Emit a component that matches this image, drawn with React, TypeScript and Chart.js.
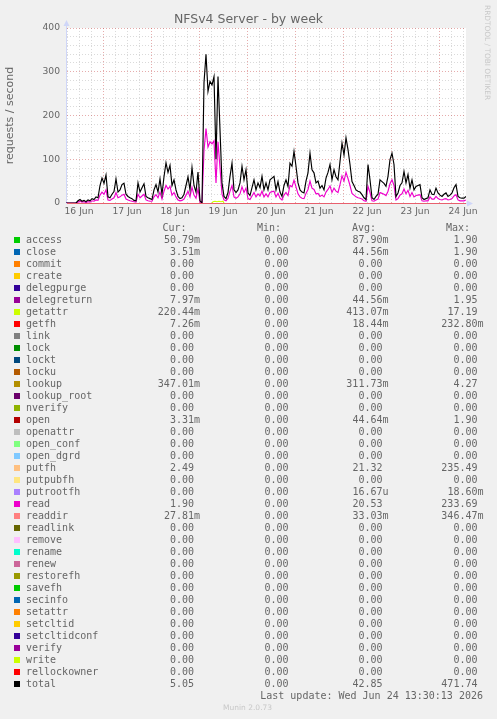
import { useEffect, useRef } from "react";
import { Chart, registerables } from "chart.js";

Chart.register(...registerables);

// ---- time axis (hours since 16 Jun 00:00), one sample per hour ----
const START_HOUR = 5.5; // 16 Jun 05:30
const END_HOUR = 205.5; // 24 Jun 13:30

const dayLabels = ["16 Jun", "17 Jun", "18 Jun", "19 Jun", "20 Jun", "21 Jun", "22 Jun", "23 Jun", "24 Jun"];

// ---- series values (requests / second) ----
const totalValues = [
  0, 0, 0, 0, 0, 0, 5, 8, 4, 6,
  3, 7, 5, 10, 8, 14, 12, 40, 57, 45,
  64, 14, 12, 20, 26, 55, 25, 30, 42, 45,
  20, 15, 12, 10, 6, 5, 46, 25, 35, 44,
  15, 12, 10, 8, 30, 42, 25, 55, 20, 60,
  92, 70, 86, 40, 53, 30, 15, 10, 12, 20,
  40, 60, 30, 81, 40, 25, 71, 5, 0, 275,
  340, 255, 278, 270, 289, 100, 289, 167, 46, 15,
  10, 24, 61, 91, 30, 24, 30, 46, 84, 53,
  76, 23, 17, 35, 53, 30, 46, 35, 61, 30,
  46, 30, 53, 57, 61, 30, 49, 25, 15, 40,
  53, 38, 91, 84, 118, 84, 46, 30, 25, 23,
  50, 69, 114, 76, 69, 46, 50, 34, 40, 30,
  57, 70, 88, 53, 76, 60, 53, 95, 137, 110,
  149, 122, 88, 49, 40, 30, 27, 25, 19, 12,
  8, 88, 53, 12, 8, 15, 20, 53, 49, 45,
  38, 61, 99, 114, 88, 15, 23, 40, 46, 72,
  46, 65, 34, 53, 30, 38, 40, 42, 12, 8,
  10, 12, 30, 20, 19, 34, 23, 18, 15, 20,
  23, 15, 18, 23, 35, 42, 15, 12, 11, 11,
  15,
];

const readValues = [
  0, 0, 0, 0, 0, 0, 2, 4, 2, 3,
  1, 3, 2, 5, 4, 7, 6, 18, 25, 20,
  30, 7, 6, 9, 12, 24, 12, 14, 18, 20,
  9, 7, 5, 4, 3, 2, 20, 12, 16, 20,
  7, 5, 4, 4, 14, 19, 12, 25, 9, 27,
  40, 32, 38, 18, 24, 14, 7, 5, 6, 9,
  18, 27, 14, 36, 18, 11, 32, 2, 0, 120,
  170, 128, 140, 135, 142, 46, 140, 80, 20, 7,
  5, 11, 27, 40, 14, 11, 14, 21, 37, 24,
  34, 10, 8, 16, 24, 14, 21, 16, 27, 14,
  21, 14, 24, 26, 27, 14, 22, 11, 7, 18,
  24, 17, 40, 37, 52, 37, 21, 14, 11, 10,
  22, 31, 50, 34, 31, 21, 22, 15, 18, 14,
  25, 31, 39, 24, 34, 27, 24, 42, 62, 50,
  70, 56, 40, 22, 18, 14, 12, 11, 9, 5,
  4, 38, 24, 5, 4, 7, 9, 24, 22, 20,
  17, 27, 44, 53, 40, 7, 10, 18, 21, 32,
  21, 29, 15, 24, 14, 17, 18, 19, 5, 4,
  5, 5, 14, 9, 9, 15, 10, 8, 7, 9,
  10, 7, 8, 10, 16, 19, 7, 5, 5, 5,
  7,
];

const getattrHours = [78.5, 79, 80, 81, 82, 83, 84, 84.5];
const getattrValues = [0, 3, 4, 3, 4, 3, 4, 0];

const hours = totalValues.map((_, i) => START_HOUR + i);

// ---- legend table ----
const seriesNames = [
  "access", "close", "commit", "create", "delegpurge", "delegreturn", "getattr", "getfh",
  "link", "lock", "lockt", "locku", "lookup", "lookup_root", "nverify", "open", "openattr",
  "open_conf", "open_dgrd", "putfh", "putpubfh", "putrootfh", "read", "readdir", "readlink",
  "remove", "rename", "renew", "restorefh", "savefh", "secinfo", "setattr", "setcltid",
  "setcltidconf", "verify", "write", "rellockowner", "total",
];
const seriesColors = [
  "#00CC00", "#0066B3", "#FF8000", "#FFCC00", "#330099", "#990099", "#CCFF00", "#FF0000",
  "#808080", "#008F00", "#00487D", "#B35A00", "#B38F00", "#6B006B", "#8FB300", "#B30000",
  "#BEBEBE", "#80FF80", "#80C9FF", "#FFC080", "#FFE680", "#AA80FF", "#EE00CC", "#FF8080",
  "#666600", "#FFBFFF", "#00FFCC", "#CC6699", "#999900", "#00CC00", "#0066B3", "#FF8000",
  "#FFCC00", "#330099", "#990099", "#CCFF00", "#FF0000", "#000000",
];
const curValues = [
  "50.79m", "3.51m", "0.00", "0.00", "0.00", "7.97m", "220.44m", "7.26m",
  "0.00", "0.00", "0.00", "0.00", "347.01m", "0.00", "0.00", "3.31m", "0.00",
  "0.00", "0.00", "2.49", "0.00", "0.00", "1.90", "27.81m", "0.00",
  "0.00", "0.00", "0.00", "0.00", "0.00", "0.00", "0.00", "0.00",
  "0.00", "0.00", "0.00", "0.00", "5.05",
];
const minValues = [
  "0.00", "0.00", "0.00", "0.00", "0.00", "0.00", "0.00", "0.00",
  "0.00", "0.00", "0.00", "0.00", "0.00", "0.00", "0.00", "0.00", "0.00",
  "0.00", "0.00", "0.00", "0.00", "0.00", "0.00", "0.00", "0.00",
  "0.00", "0.00", "0.00", "0.00", "0.00", "0.00", "0.00", "0.00",
  "0.00", "0.00", "0.00", "0.00", "0.00",
];
const avgValues = [
  "87.90m", "44.56m", "0.00", "0.00", "0.00", "44.56m", "413.07m", "18.44m",
  "0.00", "0.00", "0.00", "0.00", "311.73m", "0.00", "0.00", "44.64m", "0.00",
  "0.00", "0.00", "21.32", "0.00", "16.67u", "20.53", "33.03m", "0.00",
  "0.00", "0.00", "0.00", "0.00", "0.00", "0.00", "0.00", "0.00",
  "0.00", "0.00", "0.00", "0.00", "42.85",
];
const maxValues = [
  "1.90", "1.90", "0.00", "0.00", "0.00", "1.95", "17.19", "232.80m",
  "0.00", "0.00", "0.00", "0.00", "4.27", "0.00", "0.00", "1.90", "0.00",
  "0.00", "0.00", "235.49", "0.00", "18.60m", "233.69", "346.47m", "0.00",
  "0.00", "0.00", "0.00", "0.00", "0.00", "0.00", "0.00", "0.00",
  "0.00", "0.00", "0.00", "0.00", "471.74",
];

const TITLE = "NFSv4 Server - by week";
const Y_TITLE = "requests / second";
const LAST_UPDATE = "Last update: Wed Jun 24 13:30:13 2026";
const WATERMARK = "RRDTOOL / TOBI OETIKER";
const FOOTER = "Munin 2.0.73";

// ---- styles ----
const FONT_COLOR = "#666666";
const AXIS_COLOR = "#CFD6F8";
const ZERO_LINE = "rgb(232,96,110)";
const MINOR_GRID = "rgba(140,140,140,0.32)";
const MAJOR_GRID = "rgba(200,70,70,0.45)";
const SANS = "'DejaVu Sans', sans-serif";
const MONO = "'DejaVu Sans Mono', monospace";

const xGrid: number[] = [];
for (let h = 6; h <= 204; h += 6) xGrid.push(h);
const yGrid: number[] = [];
for (let v = 0; v <= 400; v += 20) yGrid.push(v);

const backgroundPlugin = {
  id: "rrdBackground",
  beforeDraw(chart: any) {
    const { ctx, chartArea: a, width, height } = chart;
    ctx.save();
    ctx.fillStyle = "#F0F0F0";
    ctx.fillRect(0, 0, width, height);
    ctx.fillStyle = "#FFFFFF";
    ctx.fillRect(a.left, a.top, a.right - a.left, a.bottom - a.top);
    ctx.restore();
  },
  afterDraw(chart: any) {
    const { ctx, chartArea: a } = chart;
    ctx.save();
    ctx.fillStyle = AXIS_COLOR;
    ctx.strokeStyle = AXIS_COLOR;
    ctx.lineWidth = 1;
    // y arrow
    ctx.beginPath();
    ctx.moveTo(a.left + 0.5, a.top);
    ctx.lineTo(a.left + 0.5, a.top - 3);
    ctx.stroke();
    ctx.beginPath();
    ctx.moveTo(a.left - 2.5, a.top - 2);
    ctx.lineTo(a.left + 3.5, a.top - 2);
    ctx.lineTo(a.left + 0.5, a.top - 8);
    ctx.closePath();
    ctx.fill();
    // x arrow
    ctx.beginPath();
    ctx.moveTo(a.right, a.bottom + 0.5);
    ctx.lineTo(a.right + 1, a.bottom + 0.5);
    ctx.stroke();
    ctx.beginPath();
    ctx.moveTo(a.right + 1, a.bottom - 2.5);
    ctx.lineTo(a.right + 1, a.bottom + 3.5);
    ctx.lineTo(a.right + 7, a.bottom + 0.5);
    ctx.closePath();
    ctx.fill();
    ctx.restore();
  },
};

function fmt(v: string) {
  return /[0-9]$/.test(v) ? v + " " : v;
}

export default function App() {
  const ref = useRef<HTMLCanvasElement>(null);

  useEffect(() => {
    if (!ref.current) return;
    const chart = new Chart(ref.current, {
      type: "line",
      data: {
        labels: hours,
        datasets: [
          {
            label: "total",
            data: totalValues,
            borderColor: "#000000",
            borderWidth: 1.15,
            pointRadius: 0,
            order: 0,
          },
          {
            label: "read",
            data: readValues,
            borderColor: "#EE00CC",
            borderWidth: 1.15,
            pointRadius: 0,
            order: 1,
          },
          {
            label: "getattr",
            data: getattrHours.map((h, i) => ({ x: h, y: getattrValues[i] })),
            borderColor: "#CCFF00",
            borderWidth: 1.15,
            pointRadius: 0,
            order: 2,
          },
        ],
      },
      options: {
        responsive: false,
        animation: false,
        devicePixelRatio: 1,
        layout: { padding: { left: 0, top: 28, right: 31, bottom: 0 } },
        elements: { line: { tension: 0 } },
        plugins: {
          legend: { display: false },
          tooltip: { enabled: false },
          title: { display: false },
        },
        scales: {
          x: {
            type: "linear",
            min: START_HOUR,
            max: END_HOUR,
            afterBuildTicks: (s: any) => {
              s.ticks = xGrid.map((v) => ({ value: v }));
            },
            afterFit: (s: any) => {
              s.height = 22;
            },
            ticks: {
              autoSkip: false,
              maxRotation: 0,
              minRotation: 0,
              padding: 3,
              color: FONT_COLOR,
              font: { family: SANS, size: 9.2 },
              callback: (v: any) => {
                const n = Number(v);
                return n % 24 === 12 ? dayLabels[(n - 12) / 24] : "";
              },
            },
            grid: {
              drawTicks: false,
              lineWidth: 1,
              color: (c: any) => (c.tick && c.tick.value % 24 === 0 ? MAJOR_GRID : MINOR_GRID),
            },
            border: { color: ZERO_LINE, dash: [1, 2] },
          },
          y: {
            type: "linear",
            min: 0,
            max: 400,
            afterBuildTicks: (s: any) => {
              s.ticks = yGrid.map((v) => ({ value: v }));
            },
            afterFit: (s: any) => {
              s.width = 66;
            },
            ticks: {
              autoSkip: false,
              padding: 6,
              color: FONT_COLOR,
              font: { family: SANS, size: 9.2 },
              callback: (v: any) => (Number(v) % 100 === 0 ? String(v) : ""),
            },
            grid: {
              drawTicks: false,
              lineWidth: 1,
              color: (c: any) => (c.tick && c.tick.value % 100 === 0 ? MAJOR_GRID : MINOR_GRID),
            },
            border: { color: AXIS_COLOR, dash: [1, 2] },
            title: {
              display: true,
              text: Y_TITLE,
              color: FONT_COLOR,
              font: { family: SANS, size: 11 },
              padding: { top: 4, bottom: 0 },
            },
          },
        },
      },
      plugins: [backgroundPlugin],
    } as any);
    return () => chart.destroy();
  }, []);

  const rowTop = (i: number) => 234 + i * 12;

  return (
    <div
      style={{
        position: "absolute",
        left: 0,
        top: 0,
        width: 497,
        height: 719,
        background: "#F0F0F0",
        overflow: "hidden",
        color: FONT_COLOR,
        fontFamily: MONO,
        fontSize: 10,
      }}
    >
      <canvas ref={ref} width={497} height={225} style={{ position: "absolute", left: 0, top: 0 }} />
      <div
        style={{
          position: "absolute",
          left: 0,
          width: 497,
          top: 11,
          textAlign: "center",
          fontFamily: SANS,
          fontSize: 12.5,
          lineHeight: "15px",
        }}
      >
        {TITLE}
      </div>
      <div
        style={{
          position: "absolute",
          left: 482,
          top: 5,
          writingMode: "vertical-rl",
          fontFamily: SANS,
          fontSize: 7.4,
          lineHeight: "10px",
          color: "#C8C8C8",
          whiteSpace: "pre",
        }}
      >
        {WATERMARK}
      </div>

      {/* header */}
      <div style={{ position: "absolute", top: 222, left: 162.5, lineHeight: "12px", whiteSpace: "pre" }}>Cur:</div>
      <div style={{ position: "absolute", top: 222, left: 257, lineHeight: "12px", whiteSpace: "pre" }}>Min:</div>
      <div style={{ position: "absolute", top: 222, left: 352, lineHeight: "12px", whiteSpace: "pre" }}>Avg:</div>
      <div style={{ position: "absolute", top: 222, left: 446, lineHeight: "12px", whiteSpace: "pre" }}>Max:</div>

      {seriesNames.map((name, i) => (
        <div key={name}>
          <div
            style={{
              position: "absolute",
              left: 14,
              top: rowTop(i) + 3,
              width: 6,
              height: 6,
              background: seriesColors[i],
            }}
          />
          <div style={{ position: "absolute", left: 26, top: rowTop(i), lineHeight: "12px", whiteSpace: "pre" }}>
            {name}
          </div>
          <div style={{ position: "absolute", right: 497 - 200, top: rowTop(i), lineHeight: "12px", whiteSpace: "pre" }}>
            {fmt(curValues[i])}
          </div>
          <div style={{ position: "absolute", right: 497 - 294.5, top: rowTop(i), lineHeight: "12px", whiteSpace: "pre" }}>
            {fmt(minValues[i])}
          </div>
          <div style={{ position: "absolute", right: 497 - 388.5, top: rowTop(i), lineHeight: "12px", whiteSpace: "pre" }}>
            {fmt(avgValues[i])}
          </div>
          <div style={{ position: "absolute", right: 497 - 483.5, top: rowTop(i), lineHeight: "12px", whiteSpace: "pre" }}>
            {fmt(maxValues[i])}
          </div>
        </div>
      ))}

      <div style={{ position: "absolute", right: 497 - 483, top: 690, lineHeight: "12px", whiteSpace: "pre" }}>
        {LAST_UPDATE}
      </div>
      <div
        style={{
          position: "absolute",
          left: 223,
          top: 703,
          fontFamily: SANS,
          fontSize: 7.5,
          lineHeight: "10px",
          color: "#C8C8C8",
          whiteSpace: "pre",
        }}
      >
        {FOOTER}
      </div>
    </div>
  );
}
